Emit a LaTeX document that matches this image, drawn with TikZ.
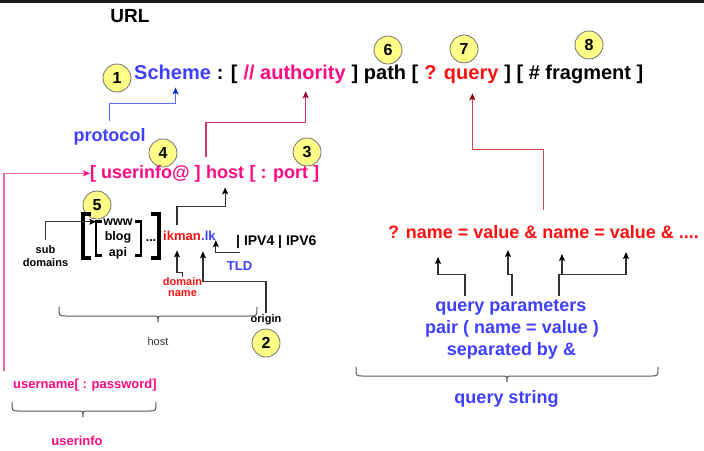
\documentclass[tikz,border=0pt]{standalone}
\usepackage{fontspec}
\setmainfont{Liberation Sans}
\usetikzlibrary{arrows.meta,calc}
\definecolor{cblue}{HTML}{3F3FFF}
\definecolor{cpink}{HTML}{FF0A80}
\definecolor{cred}{HTML}{FF1010}
\definecolor{cyel}{HTML}{FFFF88}
\definecolor{cgray}{HTML}{333333}
\definecolor{cbar}{HTML}{1A1A1A}
\definecolor{lblue}{HTML}{5870F0}
\definecolor{dblue}{HTML}{1030C0}
\definecolor{lpinkline}{HTML}{FF66AA}
\definecolor{dpinkline}{HTML}{CC3366}
\definecolor{dpinktip}{HTML}{990033}
\definecolor{qline}{HTML}{CC4444}
\definecolor{qtip}{HTML}{990000}
\newcommand\fsz[1]{\fontsize{#1}{#1}\selectfont}
\newcommand\tsp{\ \null}
\newcommand\hbrace[4]{%
  \draw[brc] (#1,#3) .. controls (#1,#3+9) .. (#1+7,#3+9) -- (#4-5,#3+9)
     .. controls (#4,#3+9) .. (#4,#3+15) .. controls (#4,#3+9) .. (#4+5,#3+9)
     -- (#2-7,#3+9) .. controls (#2,#3+9) .. (#2,#3);}
\begin{document}
\begin{tikzpicture}[x=1pt,y=-1pt,
  txt/.style={inner sep=0pt,font=\bfseries},
  num/.style={circle,draw=black!55,fill=cyel,minimum size=28pt,inner sep=0pt,
    line width=0.8pt,font=\bfseries\fsz{16}},
  con/.style={draw=cgray,line width=1.1pt,-{Stealth[length=7pt,width=6pt,inset=1.5pt,color=black]}},
  brc/.style={draw=black!65,line width=1pt,line cap=round},
  brk/.style={draw=black,line width=3.5pt},
  brki/.style={draw=black,line width=2.8pt}]
\useasboundingbox (0,0) rectangle (704,450);
\fill[cbar] (0,0) rectangle (704,2.5);

% title
\node[txt,font=\bfseries\fsz{19},anchor=base] (title) at (130,22.7) {URL};

% main URL line
\node[txt,font=\bfseries\fsz{20},anchor=base west,text=cblue] (scheme) at (134,79) {Scheme};
\node[txt,font=\bfseries\fsz{20},anchor=base west] (s1) at (scheme.base east) {\ : [\tsp};
\node[txt,font=\bfseries\fsz{20},anchor=base west,text=cpink] (auth) at (s1.base east) {// authority};
\node[txt,font=\bfseries\fsz{20},anchor=base west] (s2) at (auth.base east) {\ ] path [\tsp};
\node[txt,font=\bfseries\fsz{20},anchor=base west,text=cred] (query) at (s2.base east) {? query};
\node[txt,font=\bfseries\fsz{20},anchor=base west] (s3) at (query.base east) {\ ] [ \# fragment ]};

% numbered circles
\node[num] (n1) at (117,78) {1};
\node[num] (n6) at (388,50) {6};
\node[num] (n7) at (464,49) {7};
\node[num] (n8) at (589,45) {8};
\node[num] (n4) at (163,153) {4};
\node[num] (n3) at (307,152) {3};

% protocol
\node[txt,font=\bfseries\fsz{18},text=cblue,anchor=base] (protocol) at (109.5,141.5) {protocol};
\draw[draw=lblue,line width=1.1pt,-{Stealth[length=7pt,width=6pt,inset=1.5pt,color=dblue]}]
  ([yshift=7pt]protocol.north) -- ++(0,-18) -| ([xshift=3pt,yshift=-8pt]scheme.south);

% authority line
\node[txt,font=\bfseries\fsz{18},text=cpink,anchor=base west] (ui) at (90,178) {[ userinfo@ ]\tsp};
\node[txt,font=\bfseries\fsz{18},text=cpink,anchor=base west] (hostw) at (ui.base east) {host};
\node[txt,font=\bfseries\fsz{18},text=cpink,anchor=base west] (port) at (hostw.base east) {\ [ : port ]};
\draw[draw=dpinkline,line width=1.1pt,-{Stealth[length=7pt,width=6pt,inset=1.5pt,color=dpinktip]}]
  ([yshift=8pt]hostw.north west) -- ++(0,-34) -| ([xshift=11pt,yshift=-8pt]auth.south);

% userinfo
\node[txt,font=\bfseries\fsz{13},text=cpink,anchor=base] (uname) at (85,388) {username[ : password]};
\draw[draw=lpinkline,line width=1.4pt,-{Stealth[length=7pt,width=6pt,inset=1.5pt,color=cpink]}]
  ([xshift=-9pt,yshift=7pt]uname.north west) |- (ui.west);
\hbrace{12}{156}{402}{83}
\node[txt,font=\bfseries\fsz{13},text=cpink,anchor=base] (uinfo) at (77,445) {userinfo};

% host detail
\node[num] (n5) at (97,205) {5};
\draw[brk] (91,214) -- (83,214) -- (83,258) -- (91,258);
\draw[brki] (102,221.5) -- (96,221.5) -- (96,255.5) -- (102,255.5);
\draw[brki] (135,221.5) -- (141,221.5) -- (141,255.5) -- (135,255.5);
\draw[brk] (151,214) -- (159,214) -- (159,258) -- (151,258);
\node[txt,font=\bfseries\fsz{12.5},anchor=base] (www) at (118,225) {www};
\node[txt,font=\bfseries\fsz{12.5},anchor=base] (blog) at (118,240.5) {blog};
\node[txt,font=\bfseries\fsz{12.5},anchor=base] (api) at (118,256) {api};
\node[txt,font=\bfseries\fsz{12.5},anchor=base] (dots) at (151,241.5) {...};
\node[txt,font=\bfseries\fsz{11},anchor=base] (sub) at (45.5,253.3) {sub};
\node[txt,font=\bfseries\fsz{11},anchor=base] (doms) at (45.5,266.7) {domains};
\draw[con] ([yshift=5pt]sub.north) |- ([xshift=-7pt]www.west);

\node[txt,font=\bfseries\fsz{13},text=cred,anchor=base west] (ikman) at (163,240) {ikman};
\node[txt,font=\bfseries\fsz{13},text=cblue,anchor=base west] (lk) at (ikman.base east) {.lk};
\node[txt,font=\bfseries\fsz{14},anchor=base west] (ipv) at (236,245) {| IPV4 | IPV6};
\node[txt,font=\bfseries\fsz{13},text=cblue,anchor=base] (tld) at (239.5,270.7) {TLD};
\draw[con] ([yshift=9pt]tld.north) -| (lk.south east);
\draw[con] ([xshift=-5pt,yshift=5pt]ikman.north) -- ++(0,-19) -| ([yshift=-9pt]hostw.south);

\node[txt,font=\bfseries\fsz{11},text=cred,anchor=base] (dom) at (182.5,285) {domain};
\node[txt,font=\bfseries\fsz{11},text=cred,anchor=base] (dname) at (182.5,296.7) {name};
\draw[con] (dom.north) -- ++(0,-4) -| ([xshift=-5pt,yshift=-10pt]ikman.south);

\node[txt,font=\bfseries\fsz{11},anchor=base] (origin) at (266,322.5) {origin};
\draw[con] ([yshift=1pt]origin.north) -- ++(0,-32) -| ([xshift=2pt,yshift=-11pt]ikman.south east);
\node[num] (n2) at (266,343) {2};

\hbrace{59}{257}{307}{158}
\node[inner sep=0pt,font=\fsz{11},text=cgray,anchor=base] (hostlbl) at (158,345.7) {host};

% query string
\node[txt,font=\bfseries\fsz{18},text=cred,anchor=base west] (qline) at (388,238.5)
  {? name = value \& name = value \& ....};
\draw[draw=qline,line width=1.1pt,-{Stealth[length=7pt,width=6pt,inset=1.5pt,color=qtip]}]
  ([yshift=15pt]qline.north) -- ++(0,-61) -| ([xshift=11pt,yshift=-10pt]query.south);
\coordinate (qn1) at (438,257);
\coordinate (qn2) at (508,250);
\coordinate (qn3) at (562,254);
\coordinate (qn4) at (626,252);
\node[txt,font=\bfseries\fsz{18},text=cblue,anchor=base] (qp1) at (511,311) {query parameters};
\node[txt,font=\bfseries\fsz{18},text=cblue,anchor=base] (qp2) at (512,333) {pair ( name = value )};
\node[txt,font=\bfseries\fsz{18},text=cblue,anchor=base] (qp3) at (511.5,355) {separated by \&};
\draw[con] ([xshift=-46pt,yshift=3pt]qp1.north) -- ++(0,-22) -| (qn1);
\draw[con] ([xshift=1pt,yshift=3pt]qp1.north) -- ++(0,-22) -| (qn2);
\draw[con] ([xshift=48pt,yshift=3pt]qp1.north) -- ++(0,-22) -| (qn3);
\draw[con] ([xshift=48pt,yshift=25pt]qp1.north) -| (qn4);
\hbrace{356}{658}{367}{507}
\node[txt,font=\bfseries\fsz{18},text=cblue,anchor=base] (qstr) at (506.5,403.3) {query string};
\end{tikzpicture}
\end{document}
